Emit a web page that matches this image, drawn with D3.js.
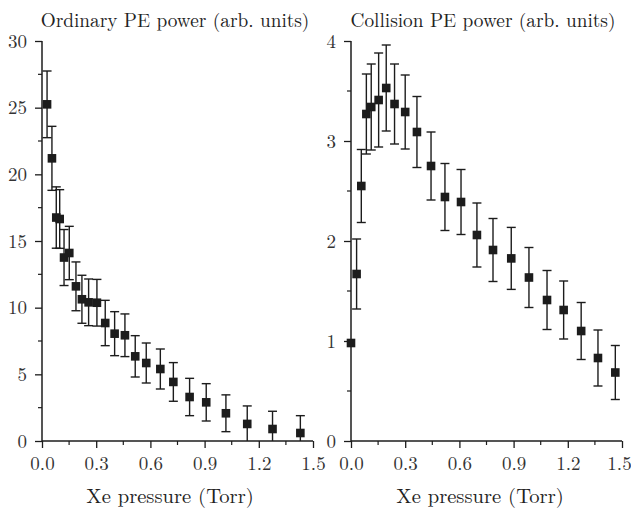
<!DOCTYPE html>
<html>
<head>
<meta charset="utf-8">
<script src="https://cdn.jsdelivr.net/npm/d3@7"></script>
<style>
  body { margin: 0; background: #fff; }
  svg { display: block; }
</style>
</head>
<body>
<div id="chart"></div>
<script>
// Ordinary PE power panel
const ordX = [0.028, 0.055, 0.079, 0.098, 0.122, 0.151, 0.188, 0.221, 0.258, 0.304, 0.350, 0.402,
  0.459, 0.516, 0.577, 0.655, 0.727, 0.817, 0.909, 1.018, 1.136, 1.276, 1.430];
const ordY = [25.25, 21.2, 16.76, 16.65, 13.76, 14.1, 11.6, 10.63, 10.4, 10.37, 8.85, 8.05,
  7.93, 6.35, 5.85, 5.4, 4.43, 3.3, 2.9, 2.08, 1.28, 0.9, 0.6];
const ordErr = [2.5, 2.4, 2.3, 2.2, 2.1, 2.0, 1.83, 1.8, 1.75, 1.75, 1.7, 1.65,
  1.6, 1.55, 1.5, 1.5, 1.45, 1.4, 1.4, 1.38, 1.35, 1.33, 1.3];

// Collision PE power panel
const colX = [0.0, 0.031, 0.057, 0.085, 0.112, 0.153, 0.195, 0.241, 0.300, 0.365, 0.443, 0.520,
  0.609, 0.697, 0.786, 0.887, 0.985, 1.085, 1.177, 1.274, 1.367, 1.463];
const colY = [0.98, 1.67, 2.55, 3.27, 3.34, 3.41, 3.53, 3.37, 3.29, 3.09, 2.75, 2.44,
  2.39, 2.06, 1.91, 1.826, 1.635, 1.41, 1.31, 1.10, 0.83, 0.685];
const colErr = [0, 0.35, 0.365, 0.4, 0.43, 0.47, 0.43, 0.4, 0.37, 0.355, 0.34, 0.335,
  0.325, 0.32, 0.315, 0.31, 0.3, 0.295, 0.29, 0.285, 0.28, 0.27];

const xTicks = [0.0, 0.3, 0.6, 0.9, 1.2, 1.5];
const ordTicks = [0, 5, 10, 15, 20, 25, 30];
const colTicks = [0, 1, 2, 3, 4];
const xLabel = "Xe pressure (Torr)";

const W = 631, H = 509;
const ink = "#1c1c1c";
const font = '"Latin Modern Roman", "Liberation Serif", serif';

const svg = d3.select("#chart").append("svg")
  .attr("width", W).attr("height", H);

function panel(opts) {
  const {left, xs, ys, errs, yMax, yTicks, yMinorStep, title, titleX, xTitleX, id} = opts;
  const top = 41, bottom = 441, width = 271;

  const x = d3.scaleLinear().domain([0, 1.5]).range([left, left + width]);
  const y = d3.scaleLinear().domain([0, yMax]).range([bottom, top]);

  const g = svg.append("g");

  g.append("clipPath").attr("id", id)
    .append("rect")
    .attr("x", left).attr("y", top - 10)
    .attr("width", width + 10).attr("height", bottom - top + 10);

  // minor ticks
  const yMinor = d3.range(0, yMax + 1e-9, yMinorStep).filter(v => !yTicks.includes(v));
  g.selectAll(".ymin").data(yMinor).enter().append("line")
    .attr("x1", left - 4).attr("x2", left)
    .attr("y1", d => y(d)).attr("y2", d => y(d))
    .attr("stroke", ink).attr("stroke-width", 1.2);
  const xMinor = d3.range(0.15, 1.5, 0.3);
  g.selectAll(".xmin").data(xMinor).enter().append("line")
    .attr("x1", d => x(d)).attr("x2", d => x(d))
    .attr("y1", bottom).attr("y2", bottom + 4)
    .attr("stroke", ink).attr("stroke-width", 1.2);

  // y axis
  const yAxis = g.append("g")
    .attr("transform", `translate(${left},0)`)
    .call(d3.axisLeft(y).tickValues(yTicks).tickSize(7).tickPadding(8).tickFormat(d3.format("d")));
  // x axis
  const xAxis = g.append("g")
    .attr("transform", `translate(0,${bottom})`)
    .call(d3.axisBottom(x).tickValues(xTicks).tickSize(7).tickPadding(8.5).tickFormat(d3.format(".1f")));

  [yAxis, xAxis].forEach(a => {
    a.attr("font-family", null).attr("font-size", null);
    a.select(".domain").attr("stroke", ink).attr("stroke-width", 1.5);
    a.selectAll(".tick line").attr("stroke", ink).attr("stroke-width", 1.3);
    a.selectAll(".tick text")
      .attr("fill", "#333")
      .style("font-family", font)
      .style("font-size", "19px");
  });
  yAxis.select(".domain").attr("d", `M0,${bottom}V${top}`);
  xAxis.select(".domain").attr("d", `M${left},0H${left + width}`);
  // keep the last x label inside the window
  if (left + width + 12 > W) {
    xAxis.selectAll(".tick text").filter(d => d === 1.5).attr("dx", "-3");
  }

  const pts = xs.map((v, i) => ({x: v, y: ys[i], e: errs[i]}));

  // error bars
  const eb = g.append("g").attr("clip-path", `url(#${id})`);
  const withErr = pts.filter(d => d.e > 0);
  eb.selectAll(".stem").data(withErr).enter().append("line")
    .attr("x1", d => x(d.x)).attr("x2", d => x(d.x))
    .attr("y1", d => y(d.y + d.e)).attr("y2", d => y(d.y - d.e))
    .attr("stroke", ink).attr("stroke-width", 1.4);
  ["top", "bot"].forEach(side => {
    eb.selectAll(".cap-" + side).data(withErr).enter().append("line")
      .attr("x1", d => x(d.x) - 4.5).attr("x2", d => x(d.x) + 4.5)
      .attr("y1", d => y(side === "top" ? d.y + d.e : d.y - d.e))
      .attr("y2", d => y(side === "top" ? d.y + d.e : d.y - d.e))
      .attr("stroke", ink).attr("stroke-width", 1.4);
  });

  // square markers
  g.selectAll(".pt").data(pts).enter().append("rect")
    .attr("x", d => x(d.x) - 4.3).attr("y", d => y(d.y) - 4.3)
    .attr("width", 8.6).attr("height", 8.6)
    .attr("fill", ink);

  g.append("text")
    .attr("x", titleX).attr("y", 27)
    .attr("text-anchor", "middle")
    .attr("fill", "#222")
    .style("font-family", font)
    .style("font-size", "19.3px")
    .text(title);

  g.append("text")
    .attr("x", xTitleX).attr("y", 503)
    .attr("text-anchor", "middle")
    .attr("fill", "#222")
    .style("font-family", font)
    .style("font-size", "20.6px")
    .text(xLabel);
}

panel({left: 42, xs: ordX, ys: ordY, errs: ordErr, yMax: 30, yTicks: ordTicks, yMinorStep: 2.5,
  title: "Ordinary PE power (arb. units)", titleX: 175, xTitleX: 170, id: "clipA"});
panel({left: 351, xs: colX, ys: colY, errs: colErr, yMax: 4, yTicks: colTicks, yMinorStep: 0.5,
  title: "Collision PE power (arb. units)", titleX: 483, xTitleX: 480, id: "clipB"});
</script>
</body>
</html>
